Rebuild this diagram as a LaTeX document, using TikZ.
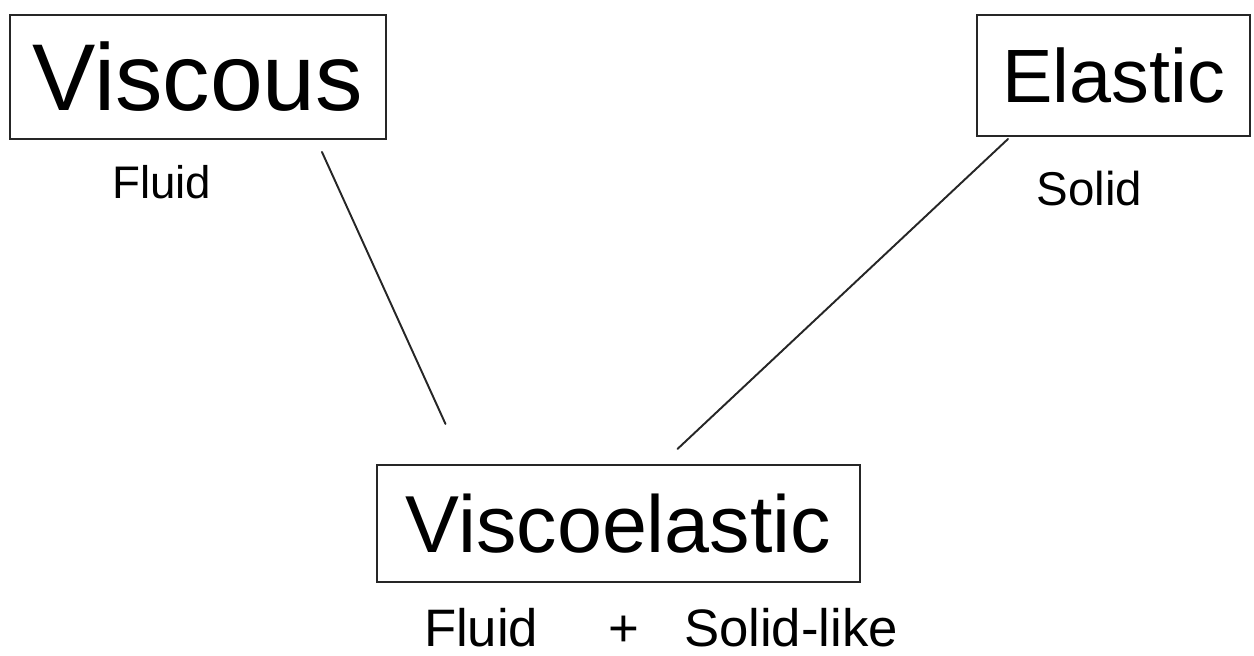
\documentclass[tikz,border=0pt]{standalone}
\usepackage{fontspec}
\setmainfont{Liberation Sans}
\usepackage{tikz}
\usetikzlibrary{positioning}

\begin{document}
\begin{tikzpicture}[
    material/.style={rectangle, draw=black!85, line width=1.2pt, minimum width=#1, align=center, inner sep=2pt},
    note/.style={inner sep=0pt, outer sep=0pt, align=center},
    link/.style={draw=black!85, line width=1.1pt, line cap=round}
]
\useasboundingbox (0,0) rectangle (25.08,-13.1);

% Viscoelastic (bottom centre)
\node[material=9.66cm, minimum height=2.34cm, font=\fontsize{46}{50}\selectfont] (visco) at (12.37,-10.47) {Viscoelastic};

% Viscous (top-left)
\node[material=7.52cm, minimum height=2.48cm, font=\fontsize{54}{60}\selectfont, above left=6.48cm and -0.22cm of visco] (viscous) {Viscous};

% Elastic (top-right)
\node[material=5.46cm, minimum height=2.42cm, font=\fontsize{43}{48}\selectfont, above right=6.54cm and 2.3cm of visco] (elastic) {Elastic};

% Labels under the boxes
\node[note, font=\fontsize{26}{30}\selectfont, below=0.5cm of viscous, xshift=-0.72cm] (fluid) {Fluid};
\node[note, font=\fontsize{27}{30}\selectfont, below=0.68cm of elastic, xshift=-0.48cm] (solid) {Solid};
\node[note, font=\fontsize{30}{34}\selectfont, below=0.5cm of visco, xshift=0.85cm] (mixed) {Fluid\hspace{1.4cm}+\hspace{0.9cm}Solid-like};

% Lines to viscoelastic
\draw[link] ([xshift=-1.3cm,yshift=-0.24cm]viscous.south east) -- ([xshift=-3.46cm,yshift=0.8cm]visco.north);
\draw[link] ([xshift=0.64cm,yshift=-0.04cm]elastic.south west) -- ([xshift=1.18cm,yshift=0.3cm]visco.north);

\end{tikzpicture}
\end{document}
